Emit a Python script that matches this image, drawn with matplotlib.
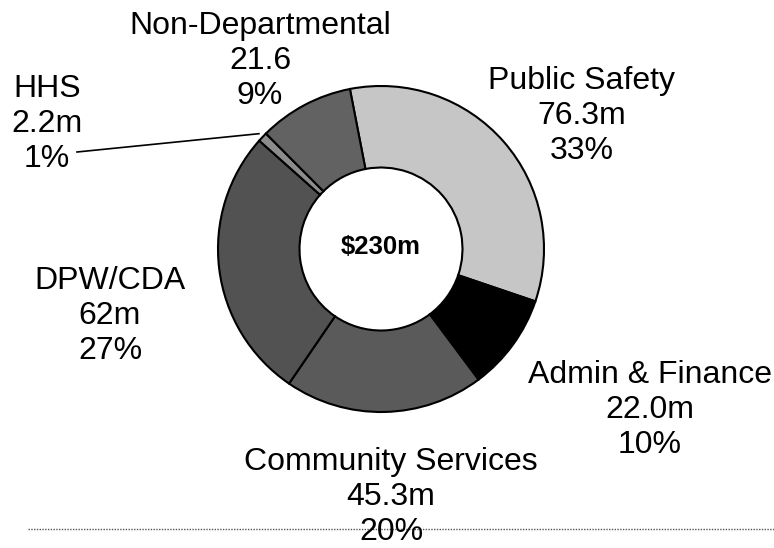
import numpy as np
import matplotlib
matplotlib.use("Agg")
import matplotlib.pyplot as plt

plt.rcParams['font.family'] = ['Liberation Sans', 'DejaVu Sans']

# budget by department, in $m (clockwise from Public Safety)
departments = ["Public Safety", "Admin & Finance", "Community Services",
               "DPW/CDA", "HHS", "Non-Departmental"]
amounts = [76.3, 22.0, 45.3, 62, 2.2, 21.6]
amount_text = ["76.3m", "22.0m", "45.3m", "62m", "2.2m", "21.6"]
total_text = "$230m"

colors = ["#c6c6c6", "#000000", "#5a5a5a", "#525252", "#8c8c8c", "#626262"]

# label anchors (pixel coords, y measured from the top)
label_xy = [(582, 116), (650, 410), (391, 497), (110, 316), (47, 124), (260, 61)]

W, H = 774, 548
fig = plt.figure(figsize=(W / 100, H / 100), dpi=100)
ax = fig.add_axes([0, 0, 1, 1])
ax.set_xlim(0, W)
ax.set_ylim(0, H)
ax.set_aspect('equal')
ax.axis('off')

cx, cy = 381, H - 249
R = 163
start = 101

wedges, _ = ax.pie(amounts, colors=colors, startangle=start, counterclock=False,
                   radius=R, center=(cx, cy),
                   wedgeprops=dict(width=R * 0.5, edgecolor='black', linewidth=1.5))
ax.set_xlim(0, W)
ax.set_ylim(0, H)

total = sum(amounts)
for name, val_txt, amt, (lx, ly) in zip(departments, amount_text, amounts, label_xy):
    pct = round(amt / total * 100)
    ax.text(lx, H - ly, f"{name}\n{val_txt}\n{pct}%", ha='center', va='center',
            fontsize=23, linespacing=1.2, color='black')

# leader line for the thin HHS slice
hhs = wedges[departments.index("HHS")]
mid = np.deg2rad((hhs.theta1 + hhs.theta2) / 2)
ax.plot([77, cx + R * 1.03 * np.cos(mid)], [H - 152, cy + R * 1.03 * np.sin(mid)],
        color='black', lw=1.2)

ax.text(cx, cy + 2, total_text, ha='center', va='center', fontsize=18.5,
        fontweight='bold')

ax.plot([28, W], [H - 529, H - 529], color='#555555', lw=1, ls=(0, (1, 1)))

fig.savefig("out.png", dpi=100)
